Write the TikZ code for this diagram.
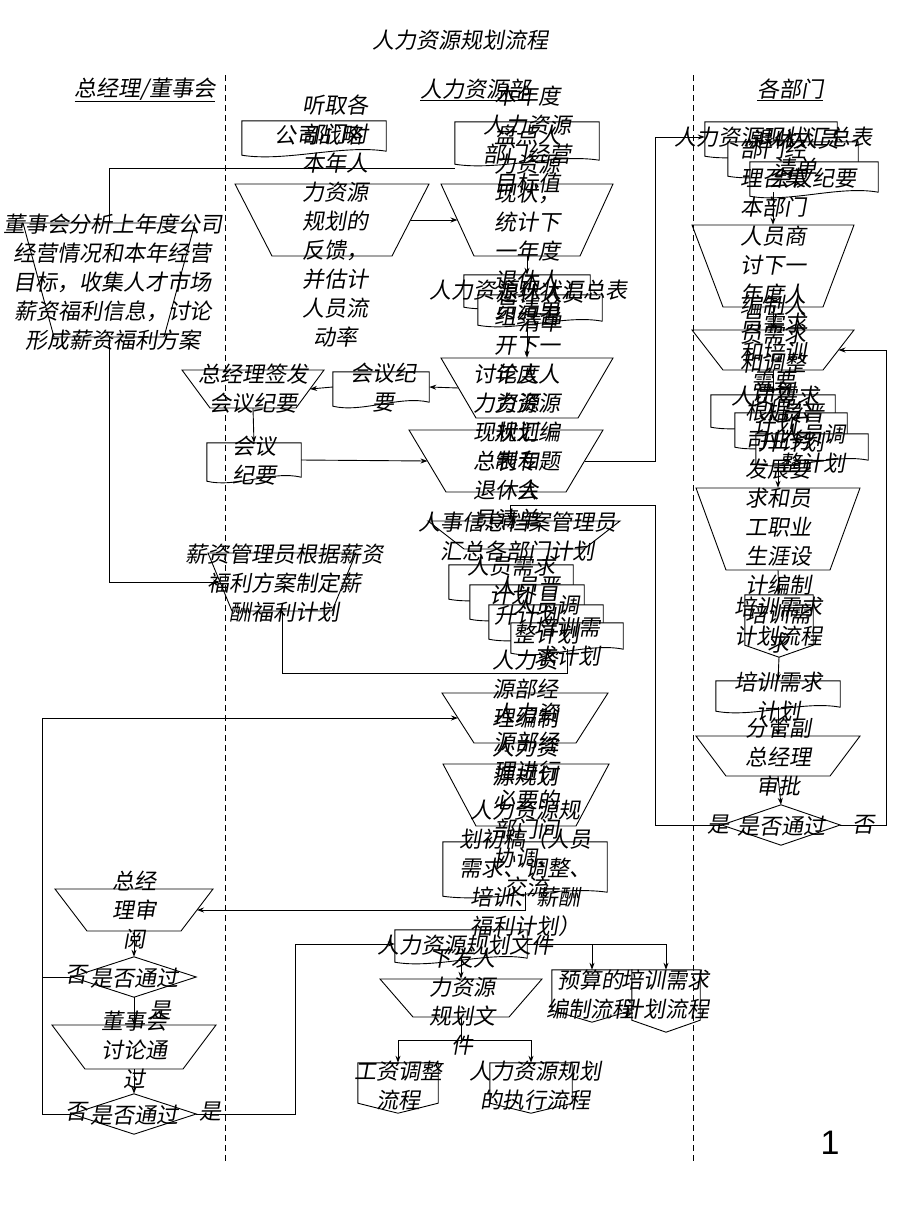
\documentclass[tikz,border=0pt]{standalone}
\usepackage{fontspec}
\newfontfamily\cjk[FakeSlant=0.18]{Noto Sans CJK SC}
\newfontfamily\numfont{Liberation Sans}
\usetikzlibrary{calc,arrows.meta}

% manual operation: name, x, y, top half width, bottom half width, half height
\newcommand{\manop}[6]{%
  \node[inner sep=0, minimum width=2*#4pt, minimum height=2*#6pt] (#1) at (#2,#3) {};
  \draw[shp] (#2-#4,#3-#6) -- (#2+#4,#3-#6) -- (#2+#5,#3+#6) -- (#2-#5,#3+#6) -- cycle;
  \coordinate (#1-w) at ({#2-(#4+#5)/2},#3);
  \coordinate (#1-e) at ({#2+(#4+#5)/2},#3);
}
% document: name, x, y, half width, half height
\newcommand{\docu}[5]{%
  \node[inner sep=0, minimum width=2*#4pt, minimum height=2*#5pt] (#1) at (#2,#3) {};
  \draw[shp] ($(#1.south west)+(0,4)$) -- (#1.north west) -- (#1.north east) -- (#1.south east)
    .. controls +({-0.6*#4},-7) and +({0.6*#4},7) .. ($(#1.south west)+(0,4)$) -- cycle;
}
% off-page connector: name, x, y, half width, half height, point depth
\newcommand{\offpg}[6]{%
  \node[inner sep=0, minimum width=2*#4pt, minimum height=2*#5pt] (#1) at (#2,#3) {};
  \draw[shp] (#1.north west) -- (#1.north east) -- ($(#1.south east)+(0,-#6)$)
    -- (#1.south) -- ($(#1.south west)+(0,-#6)$) -- cycle;
}
% decision: name, x, y, half width, half height
\newcommand{\decis}[5]{%
  \node[inner sep=0, minimum width=2*#4pt, minimum height=2*#5pt] (#1) at (#2,#3) {};
  \draw[shp] (#1.north) -- (#1.east) -- (#1.south) -- (#1.west) -- cycle;
}

\begin{document}
\begin{tikzpicture}[x=1pt, y=-1pt,
    shp/.style={draw, fill=white, line width=0.9pt},
    conn/.style={line width=0.9pt},
    arr/.style={conn, -{Stealth[length=7pt,width=5pt]}},
    lane/.style={line width=0.8pt, dash pattern=on 6pt off 4pt},
    txt/.style={font=\cjk\fontsize{22}{29}\selectfont, align=center, inner sep=0},
    head/.style={font=\cjk\fontsize{22}{29}\selectfont, inner sep=0}]
    \useasboundingbox (0,0) rectangle (920,1227);

    % Column: general manager / board
    \manop{a1}{109}{280}{86}{55}{57}
    \manop{a2}{282}{582}{74}{50}{29}
    \manop{a5}{253}{389}{71}{43}{19}
    \docu{a6}{254}{460}{47}{17}
    \manop{a3}{134}{910}{79}{47}{21}
    \decis{d1}{134}{977}{62}{20}
    \manop{a4}{134}{1047}{82}{49}{22}
    \decis{d2}{134}{1114}{62}{20}

    % Column: HR department
    \docu{bd0}{314}{136}{72}{15}
    \manop{b0}{332}{220}{97}{60}{36}
    \docu{b1}{527}{141}{72}{19}
    \manop{b2}{527}{220}{86}{53}{36}
    \docu{b3}{527}{289}{63}{14}
    \docu{b3b}{540}{308}{62}{13}
    \manop{b4}{527}{388}{86}{51}{30}
    \docu{b5}{381}{387}{48}{15}
    \manop{b6}{506}{461}{97}{60}{31}
    \manop{b7}{524}{535}{96}{60}{14}
    \docu{bs1}{511}{580}{62}{15}
    \docu{bs2}{527}{600}{57}{15}
    \docu{bs3}{546}{620}{57}{15}
    \docu{bs4}{567}{636}{56}{13}
    \manop{c1}{525}{718}{83}{51}{25}
    \manop{c2}{526}{795}{83}{50}{31}
    \docu{c3}{525}{867}{82}{25}
    \docu{c4}{461}{944}{66}{14}
    \manop{c5}{461}{998}{81}{48}{19}
    \offpg{e1}{592}{996}{40}{26}{12}
    \offpg{e2}{666}{1001}{34}{31}{12}
    \offpg{f1}{398}{1088}{40}{25}{10}
    \offpg{f2}{531}{1088}{41}{25}{10}

    % Column: departments
    \docu{cd1}{771}{137}{66}{15}
    \docu{cd2}{793}{157}{65}{15}
    \docu{cd3}{814}{177}{64}{15}
    \manop{t1}{773}{266}{81}{50}{41}
    \manop{t2}{773}{350}{81}{50}{20}
    \docu{cs1}{773}{409}{62}{14}
    \docu{cs2}{791}{428}{56}{15}
    \docu{cs3}{812}{447}{56}{13}
    \manop{t3}{778}{529}{82}{52}{41}
    \offpg{cp1}{779}{626}{34}{31}{12}
    \docu{cd4}{778}{694}{62}{13}
    \manop{t4}{778}{756}{82}{52}{20}
    \decis{d3}{781}{825}{59}{20}

    % bend points
    \coordinate (k1) at (42,977);
    \coordinate (k2) at (295,1114);
    \coordinate (k3) at (42,1114);
    \coordinate (k4) at (655,461);
    \coordinate (k5) at (886,825);
    \coordinate (k6) at (655,825);
    \coordinate (k7) at (510,505);
    \coordinate (k8) at (455,168);
    \coordinate (k9) at (567,673);

    % Connectors
    \draw[conn] (a1.north) |- (k8);
    \draw[arr] (a1.south) |- (a2-w);
    \draw[conn] (a2.south) |- (k9) -- (bs4.south);
    \draw[arr] (b0-e) -- (b2-w);
    \draw[arr] (b2.south) -- (b3.north);
    \draw[arr] (b3b.south -| b4.north) -- (b4.north);
    \draw[arr] (b4-w) -- (b5.east);
    \draw[arr] (b5.west) -- (a5-e);
    \draw[arr] (a5.south) -- (a6.north);
    \draw[arr] (a6.east) -- (b6-w);
    \draw[arr] (b6-e) -- (k4) |- (cd1.west);
    \draw[arr] (cd3.south -| t1.north) -- (t1.north);
    \draw[arr] (t1.south) -- (t2.north);
    \draw[arr] (t2.south) -- (cs1.north);
    \draw[arr] (cs3.south -| t3.north) -- (t3.north);
    \draw[arr] (t3.south) -- (cp1.north);
    \draw[arr] (cp1.south) -- (cd4.north);
    \draw[arr] (cd4.south) -- (t4.north);
    \draw[arr] (t4.south) -- (d3.north);
    \draw[arr] (d3.east) -- (k5) |- (t2-e);
    \draw[arr] (d3.west) -- (k6) |- (k7) -- (k7 |- b7.north);
    \draw[arr] (c3.south) |- (a3-e);
    \draw[arr] (a3.south) -- (d1.north);
    \draw[arr] (d1.south) -- (a4.north);
    \draw[arr] (a4.south) -- (d2.north);
    \draw[arr] (d1.west) -- (k1) |- (c1-w);
    \draw[conn] (d2.west) -- (k3) -- (k1);
    \draw[arr] (d2.east) -- (k2) |- (c4.west);
    \draw[arr] (c4.south) -- (c5.north);
    \draw[arr] (c4.east) -| (e1.north);
    \draw[arr] (c4.east) -| (e2.north);
    \draw[arr] (c5.south) -- ++(0,23) -| (f1.north);
    \draw[arr] (c5.south) -- ++(0,23) -| (f2.north);

    % Lanes
    \draw[lane] (225,75) -- (225,1162);
    \draw[lane] (693,75) -- (693,1162);

    % Titles
    \node[head] (title) at (460,40) {人力资源规划流程};
    \node[head] (h1) at (145,90) {\underline{总经理/董事会}};
    \node[head] (h2) at (475,90) {\underline{人力资源部}};
    \node[head] (h3) at (790,90) {\underline{各部门}};
    \node[font=\numfont\fontsize{34}{34}\selectfont, inner sep=0] (pg) at (830,1143) {1};

    % Texts
    \node[txt] (a1t) at (113,282) {董事会分析上年度公司\\经营情况和本年经营\\目标，收集人才市场\\薪资福利信息，讨论\\形成薪资福利方案};
    \node[txt] (a2t) at (284,583) {薪资管理员根据薪资\\福利方案制定薪\\酬福利计划};
    \node[txt] (a5t) at (253,389) {总经理签发\\会议纪要};
    \node[txt] (a6t) at (254,461) {会议\\纪要};
    \node[txt] (a3t) at (134,910) {总经\\理审\\阅};
    \node[txt] (d1t) at (134,978) {是否通过};
    \node[txt] (a4t) at (134,1050) {董事会\\讨论通\\过};
    \node[txt] (d2t) at (134,1115) {是否通过};
    \node[txt] (bd0t) at (318,135) {公司战略};
    \node[txt] (b0t) at (335,221) {听取各\\部门对\\本年人\\力资源\\规划的\\反馈，\\并估计\\人员流\\动率};
    \node[txt] (b1t) at (527,140) {本年度\\人力资源\\部门经营\\目标值};
    \node[txt] (b2t) at (527,222) {盘点人\\力资源\\现状，\\统计下\\一年度\\退休人\\员清单};
    \node[txt] (b3t) at (528,290) {人力资源现状汇总表};
    \node[txt] (b3bt) at (540,308) {退休人员\\清单};
    \node[txt] (b4t) at (527,403) {组织召\\开下一\\年度人\\力资源\\规划编\\制专题\\会};
    \node[txt] (b5t) at (383,388) {会议纪\\要};
    \node[txt] (b6t) at (506,447) {讨论人\\力资源\\现状汇\\总表和\\退休人\\员清单};
    \node[txt] (b7t) at (517,537) {人事信息档案管理员\\汇总各部门计划};
    \node[txt] (bs1t) at (511,581) {人员需求\\计划};
    \node[txt] (bs2t) at (527,601) {人员晋\\升计划};
    \node[txt] (bs3t) at (546,620) {人员调\\整计划};
    \node[txt] (bs4t) at (567,642) {培训需\\求计划};
    \node[txt] (c1t) at (525,718) {人力资\\源部经\\理编制\\人力资\\源规划};
    \node[txt] (c2t) at (526,800) {人力资\\源部经\\理进行\\必要的\\部门间\\协调、\\交流};
    \node[txt] (c3t) at (525,868) {人力资源规\\划初稿（人员\\需求、调整、\\培训、薪酬\\福利计划）};
    \node[txt] (c4t) at (465,945) {人力资源规划文件};
    \node[txt] (c5t) at (462,1002) {下发人\\力资源\\规划文\\件};
    \node[txt] (e1t) at (590,995) {预算的\\编制流程};
    \node[txt] (e2t) at (665,995) {培训需求\\计划流程};
    \node[txt] (f1t) at (398,1086) {工资调整\\流程};
    \node[txt] (f2t) at (535,1086) {人力资源规划\\的执行流程};
    \node[txt] (cd1t) at (773,137) {人力资源现状汇总表};
    \node[txt] (cd2t) at (795,154) {退休人员\\清单};
    \node[txt] (cd3t) at (812,178) {会议纪要};
    \node[txt] (t1t) at (773,265) {部门经\\理召集\\本部门\\人员商\\讨下一\\年度人\\员需求\\和培训\\需要};
    \node[txt] (t2t) at (773,349) {编制人\\员需求\\和调整\\计划};
    \node[txt] (cs1t) at (775,411) {人员需求\\计划};
    \node[txt] (cs2t) at (791,428) {人员晋\\升计划};
    \node[txt] (cs3t) at (812,449) {人员调\\整计划};
    \node[txt] (t3t) at (778,527) {根据公\\司业务\\发展要\\求和员\\工职业\\生涯设\\计编制\\培训需\\求};
    \node[txt] (cp1t) at (778,622) {培训需求\\计划流程};
    \node[txt] (cd4t) at (778,697) {培训需求\\计划};
    \node[txt] (t4t) at (778,757) {分管副\\总经理\\审批};
    \node[txt] (d3t) at (781,826) {是否通过};

    % Branch labels
    \node[txt] (l1) at (76,975) {否};
    \node[txt] (l2) at (160,1011) {是};
    \node[txt] (l3) at (76,1112) {否};
    \node[txt] (l4) at (210,1112) {是};
    \node[txt] (l5) at (718,825) {是};
    \node[txt] (l6) at (863,825) {否};
\end{tikzpicture}
\end{document}
